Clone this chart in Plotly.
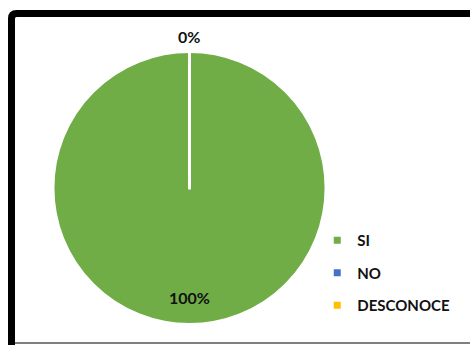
import math
import plotly.graph_objects as go

# Survey answers and their share of respondents
categories = ["SI", "NO", "DESCONOCE"]
values = [100, 0, 0]
colors = ["#70AD47", "#4472C4", "#FFC000"]

W, H = 470, 345
cx, cy, r = 189.5, 188.0, 136.5  # pie centre/radius in pixels

fig = go.Figure()

fig.add_trace(go.Pie(
    labels=categories,
    values=values,
    sort=False,
    direction="clockwise",
    rotation=0,
    marker=dict(colors=colors, line=dict(color="white", width=3)),
    textinfo="none",
    hoverinfo="label+percent",
    showlegend=False,
    domain=dict(x=[(cx - r) / W, (cx + r) / W],
                y=[(H - cy - r) / H, (H - cy + r) / H]),
))

# Legend entries: one group per category so the groups can be spaced apart
for name, col in zip(categories, colors):
    fig.add_trace(go.Scatter(
        x=[None], y=[None], mode="markers", name=name,
        legendgroup=name,
        marker=dict(symbol="square", size=7, color=col),
    ))

# Percentage labels placed at each slice's mid-angle
total = sum(values)
cum = 0.0
shown = set()
for v in values:
    frac = v / total
    mid = (cum + frac / 2) * 2 * math.pi  # clockwise from 12 o'clock
    cum += frac
    txt = f"{round(frac * 100)}%"
    if txt in shown:
        continue
    shown.add(txt)
    rad = r * 0.8 if frac > 0 else r + 15
    px = cx + rad * math.sin(mid)
    py = cy - rad * math.cos(mid)
    fig.add_annotation(
        x=px / W, y=1 - py / H, xref="paper", yref="paper",
        text=f"<b>{txt}</b>", showarrow=False,
        font=dict(family="Lato", size=16, color="#111111"),
        xanchor="center", yanchor="middle",
    )

# Chart frame: thick black border with rounded top-left corner
x0 = 11.5 / W
y0 = 1 - 13.5 / H
rc = 5
fig.add_shape(
    type="path", xref="paper", yref="paper",
    path=(f"M {x0},{-0.1} L {x0},{1 - (13.5 + rc) / H} "
          f"Q {x0},{y0} {(11.5 + rc) / W},{y0} L 1.1,{y0}"),
    line=dict(color="black", width=7),
)
fig.add_shape(
    type="line", xref="paper", yref="paper",
    x0=15 / W, x1=1, y0=1 - 343 / H, y1=1 - 343 / H,
    line=dict(color="#7f7f7f", width=2),
)

fig.update_layout(
    width=W, height=H,
    margin=dict(l=0, r=0, t=0, b=0),
    paper_bgcolor="white", plot_bgcolor="white",
    xaxis=dict(visible=False), yaxis=dict(visible=False),
    legend=dict(
        x=0.675, y=1 - 224 / H, xanchor="left", yanchor="top",
        font=dict(family="Lato", size=15, color="#111111", weight="bold"),
        tracegroupgap=10, bgcolor="rgba(0,0,0,0)",
        itemwidth=30,
    ),
)

fig.write_html("out.html")
